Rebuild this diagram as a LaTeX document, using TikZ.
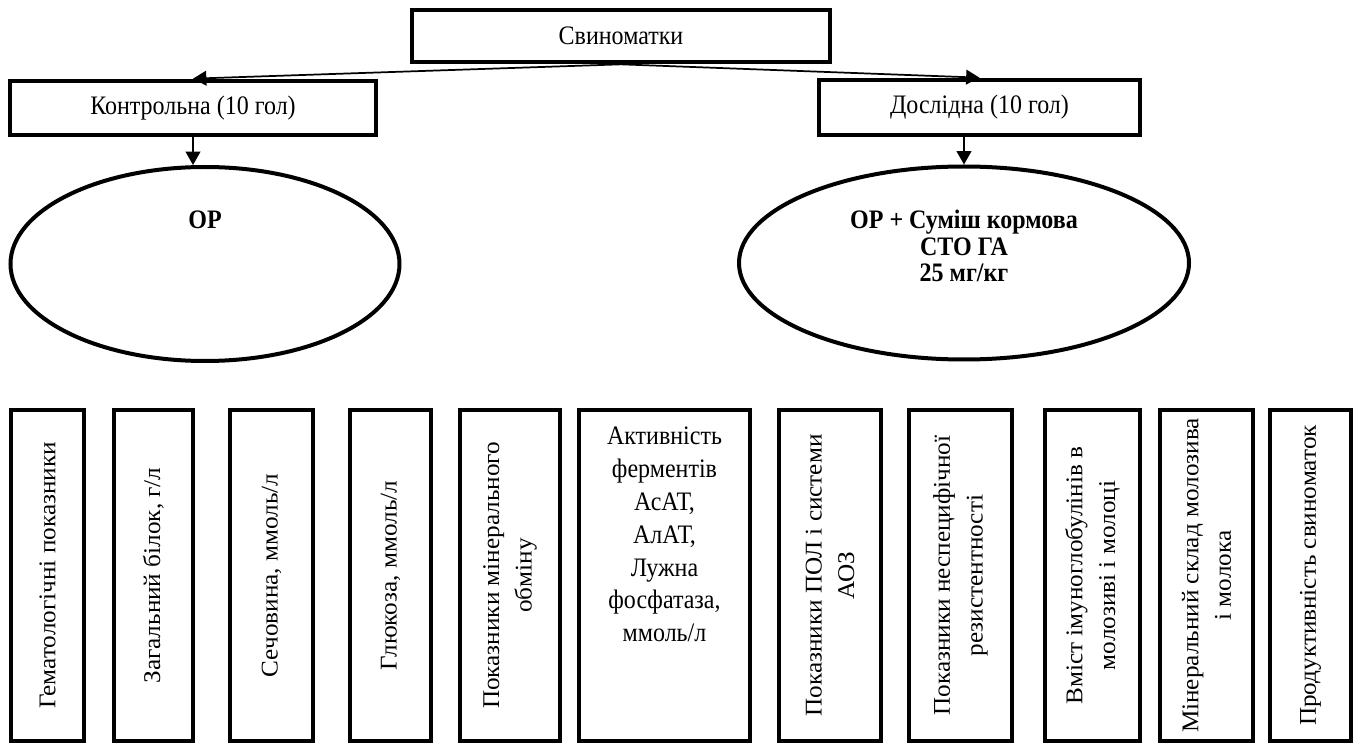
\documentclass[tikz,border=0pt]{standalone}
\usepackage{fontspec}
\setmainfont{Liberation Serif}
\newfontfamily\tallfont[FakeStretch=0.9]{Liberation Serif}
\newfontfamily\longfont[FakeStretch=1.05]{Liberation Serif}
\usepackage{tikz}
\usetikzlibrary{arrows.meta,positioning,shapes.geometric}
\tikzset{
  grpbox/.style={draw, line width=3.5pt, inner sep=0pt, font=\tallfont\fontsize{20}{24}\selectfont},
  colbox/.style={grpbox, rotate=90, minimum width=248.25pt, minimum height=#1, align=center, font=\longfont\fontsize{18}{24.5}\selectfont},
  oval/.style={draw, ellipse, line width=3pt, inner sep=0pt},
  ovaltext/.style={inner sep=0pt, align=center, font=\tallfont\bfseries\fontsize{20}{20}\selectfont},
  arr/.style={-{Triangle[length=10pt,width=11pt]}, line width=1.3pt}
}

\begin{document}
\begin{tikzpicture}[x=0.75pt, y=-0.75pt]
  \useasboundingbox (0,0) rectangle (1357,745);

  \node[grpbox, minimum width=313.5pt, minimum height=39pt] (sows) at (621,36) {Свиноматки};
  \node[grpbox, minimum width=274.5pt, minimum height=40.5pt] (ctrl) at (193,108) {Контрольна (10 гол)};
  \node[grpbox, minimum width=240.75pt, minimum height=41.25pt] (expt) at (979.5,107.5) {Дослідна (10 гол)};

  \node[oval, minimum width=291.75pt, minimum height=145.5pt] (diet1) at (205,264) {};
  \node[oval, minimum width=337.5pt, minimum height=144.75pt] (diet2) at (964,263) {};
  \node[ovaltext, below=34pt of diet1.north] (diet1txt) {ОР};
  \node[ovaltext, below=34pt of diet2.north] (diet2txt) {ОР + Суміш кормова\\СТО ГА\\25 мг/кг};

  \draw[arr] (sows.south) -- (ctrl.north);
  \draw[arr] (sows.south) -- (expt.north);
  \draw[arr] (ctrl.south) -- (ctrl.south |- diet1.north);
  \draw[arr] (expt.south -| diet2.north) -- (diet2.north);

  % indicators
  \node[colbox=54.75pt] (ind1) at (47.5,575.5) {Гематологічні показники};
  \node[colbox=59.25pt] (ind2) at (153.5,575.5) {Загальний білок, г/л};
  \node[colbox=62.25pt] (ind3) at (271.5,575.5) {Сечовина, ммоль/л};
  \node[colbox=60.75pt] (ind4) at (390.5,575.5) {Глюкоза, ммоль/л};
  \node[colbox=75pt] (ind5) at (510,575.5) {Показники мінерального\\обміну};
  \node[grpbox, minimum width=128.25pt, minimum height=248.25pt] (ind6) at (664.5,575.5) {};
  \node[inner sep=0pt, align=center, font=\tallfont\fontsize{20}{24.6}\selectfont, below=14.5pt of ind6.north] (ind6txt)
    {Активність\\ферментів\\АсАТ,\\АлАТ,\\Лужна\\фосфатаза,\\ммоль/л};
  \node[colbox=76.5pt] (ind7) at (830,575.5) {Показники ПОЛ і системи\\АОЗ};
  \node[colbox=77.25pt] (ind8) at (960.5,575.5) {Показники неспецифічної\\резистентності};
  \node[colbox=71.25pt] (ind9) at (1092.5,575.5) {Вміст імуноглобулінів в\\молозиві і молоці};
  \node[colbox=69.75pt] (ind10) at (1206.5,575.5) {Мінеральний склад молозива\\і молока};
  \node[colbox=60.75pt] (ind11) at (1310.5,575.5) {Продуктивність свиноматок};
\end{tikzpicture}
\end{document}
